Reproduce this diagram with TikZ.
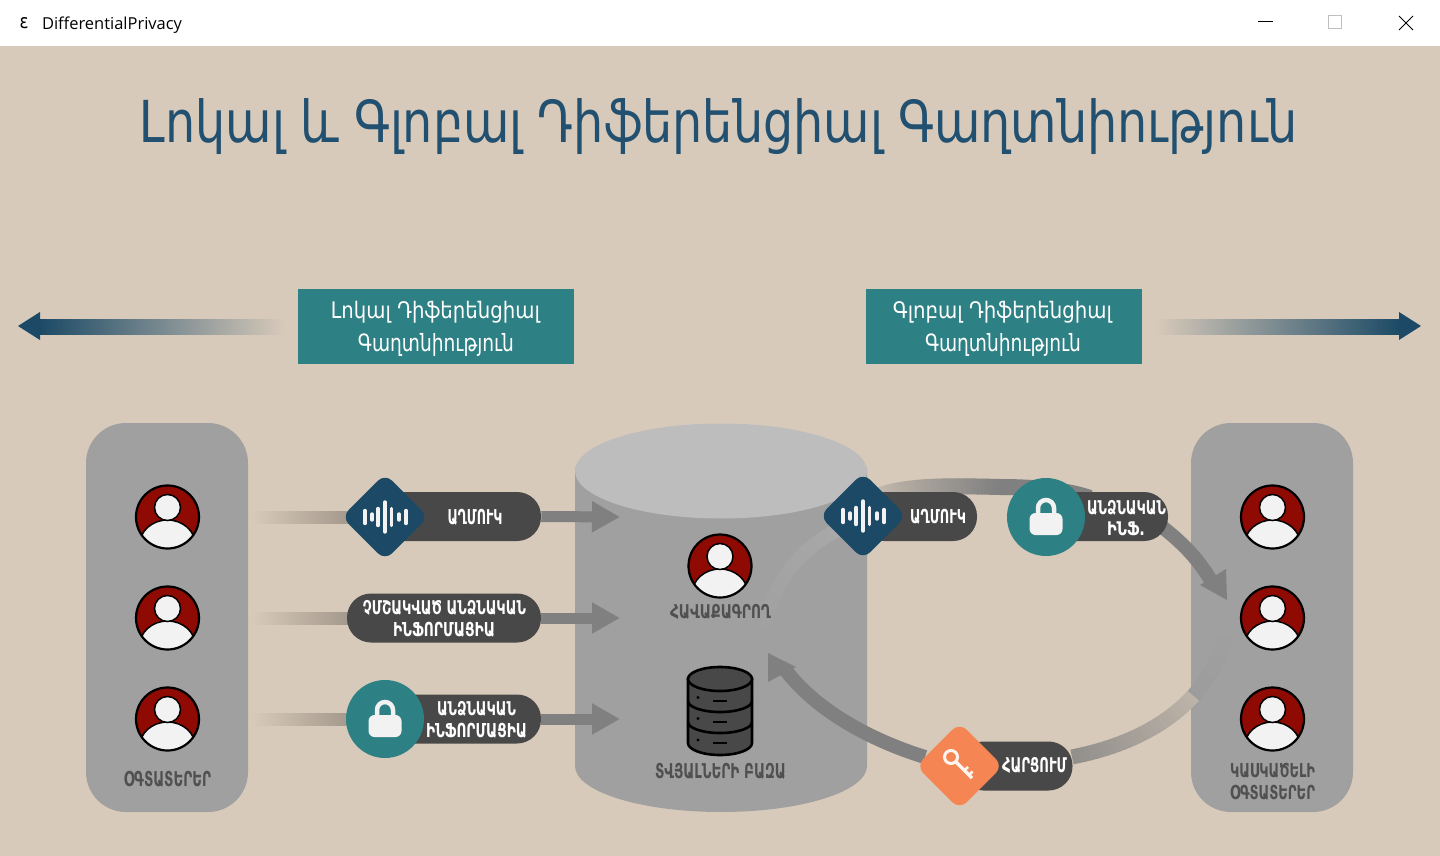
\documentclass[tikz,border=0pt]{standalone}
\usepackage{graphicx}
\usepackage{fontspec}
\usetikzlibrary{arrows.meta,shapes.geometric,calc}
\newfontfamily\armf{DejaVu Sans}
\newfontfamily\uif{Open Sans}
\newdimen\pxu \pxu=.75pt
\newdimen\mydim
\definecolor{bgc}{HTML}{D8CABA}
\definecolor{panelc}{HTML}{A0A0A0}
\definecolor{topc}{HTML}{BDBDBD}
\definecolor{pillc}{HTML}{484848}
\definecolor{navyc}{HTML}{1C4A66}
\definecolor{tealc}{HTML}{2D8083}
\definecolor{orangec}{HTML}{F58553}
\definecolor{arrc}{HTML}{808080}
\definecolor{redc}{HTML}{8F0A02}
\definecolor{iconc}{HTML}{F2F2F2}
\definecolor{captc}{HTML}{505050}
\definecolor{titlec}{HTML}{215070}
\definecolor{shadec}{HTML}{A3988C}
% text fitted to an exact box: regular and bold
\newcommand\lab[3]{\resizebox*{#1\pxu}{#2\pxu}{\armf #3}}
\newcommand\labb[3]{\resizebox*{#1\pxu}{#2\pxu}{\armf\bfseries #3}}
% fading curve between named coordinates, as opaque mixed colours
\newcommand\getxy[3]{\pgfextractx\mydim{\pgfpointanchor{#1}{center}}\edef#2{\the\mydim}\pgfextracty\mydim{\pgfpointanchor{#1}{center}}\edef#3{\the\mydim}}
\def\fadebg{bgc}\def\fadealt{panelc}\def\fadethresh{9999}
\newcommand\fadecurve[8]{%
  \getxy{#1}{\pax}{\pay}\getxy{#2}{\pbx}{\pby}\getxy{#3}{\pcx}{\pcy}\getxy{#4}{\pdx}{\pdy}%
  \foreach \i in {0,...,39}{%
    \pgfmathsetmacro\ta{\i/40}\pgfmathsetmacro\tb{(\i+1.2)/40}%
    \pgfmathsetmacro\xa{(1-\ta)^3*\pax+3*(1-\ta)^2*\ta*\pbx+3*(1-\ta)*\ta^2*\pcx+\ta^3*\pdx}%
    \pgfmathsetmacro\ya{(1-\ta)^3*\pay+3*(1-\ta)^2*\ta*\pby+3*(1-\ta)*\ta^2*\pcy+\ta^3*\pdy}%
    \pgfmathsetmacro\xb{(1-\tb)^3*\pax+3*(1-\tb)^2*\tb*\pbx+3*(1-\tb)*\tb^2*\pcx+\tb^3*\pdx}%
    \pgfmathsetmacro\yb{(1-\tb)^3*\pay+3*(1-\tb)^2*\tb*\pby+3*(1-\tb)*\tb^2*\pcy+\tb^3*\pdy}%
    \pgfmathsetmacro\pc{100*(#7+(#8-#7)*(\i+.5)/40)}%
    \pgfmathparse{\xa>\fadethresh?1:0}%
    \pgfmathtruncatemacro\isalt{\pgfmathresult}%
    \ifnum\isalt=1 \edef\curbg{\fadealt}\pgfmathsetmacro\pc{\pc*.4}\else\edef\curbg{\fadebg}\fi
    \draw[draw=#5!\pc!\curbg,line width=#6\pxu] (\xa pt,\ya pt) -- (\xb pt,\yb pt);%
  }}
\newcommand\usericon[3]{%
  \node[usernode] (#1) at (#2,#3) {};
  \begin{scope}
    \clip (#1.center) circle (31\pxu);
    \fill[iconc,draw=black,line width=1.5\pxu] ($(#1.center)+(0,28)$) ellipse (28 and 25);
  \end{scope}
  \draw[black,line width=2.2\pxu] (#1.center) circle (31.5\pxu);
  \fill[iconc,draw=black,line width=1.5\pxu] ($(#1.center)+(0,-9.5)$) circle (13\pxu);
}
\newcommand\waveicon[1]{%
  \foreach \dx/\hh in {-20/6.5,-13/3,-7/8.5,0/15,6.5/8.5,14/3,21/6.5}{
    \draw[iconc,line width=3.4\pxu,line cap=round] ($(#1.center)+(\dx,-\hh)$) -- ($(#1.center)+(\dx,\hh)$);}
}
\newcommand\lockicon[1]{%
  \draw[iconc,line width=4.5\pxu] ($(#1.center)+(-8,6)$) -- ($(#1.center)+(-8,-9)$) arc[start angle=180,end angle=360,x radius=8,y radius=8] -- ($(#1.center)+(8,6)$);
  \fill[iconc,rounded corners=6\pxu] ($(#1.center)+(-16.5,-4)$) rectangle ($(#1.center)+(16.5,18)$);
}
\tikzset{
  panel/.style={fill=panelc,draw=none,rounded corners=40\pxu,minimum width=162\pxu,minimum height=389\pxu,inner sep=0pt},
  pillnode/.style={fill=pillc,draw=none,rounded corners=24\pxu,minimum height=49\pxu,inner sep=0pt},
  dia/.style={diamond,draw=none,aspect=1,inner sep=0pt,minimum width=87\pxu,minimum height=87\pxu,rounded corners=10\pxu},
  circ/.style={circle,draw=none,inner sep=0pt,minimum size=78\pxu},
  usernode/.style={circle,fill=redc,draw=none,inner sep=0pt,minimum size=63\pxu},
  headbox/.style={fill=tealc,draw=none,inner sep=0pt,minimum width=276\pxu,minimum height=75\pxu},
  txt/.style={inner sep=0pt,outer sep=0pt},
  flow/.style={draw=arrc,line width=11\pxu,-{Triangle[length=21pt,width=22pt]}},
  inbar/.style={draw=none,left color=bgc,right color=shadec},
}
\begin{document}
\begin{tikzpicture}[x=.75pt,y=-.75pt]
\useasboundingbox (0,0) rectangle (1440,856);
\fill[white] (0,0) rectangle (1440,46);
\fill[bgc] (0,46) rectangle (1440,856);
% title bar
\node[txt,anchor=center] (eps) at (24,23) {\resizebox{9\pxu}{11\pxu}{\armf ε}};
\node[txt,anchor=west] (app) at (42,25) {\resizebox{140\pxu}{!}{\uif DifferentialPrivacy}};
\draw[black,line width=1\pxu] (1258,22) -- (1273,22);
\draw[black!25,line width=1\pxu] (1328,16) rectangle (1341,29);
\draw[black,line width=1\pxu] (1399,16) -- (1413,30) (1413,16) -- (1399,30);
% title
\node[txt,text=titlec] (title) at (719,127) {\lab{1158}{56}{Լոկալ և Գլոբալ Դիֆերենցիալ Գաղտնիություն}};
% header boxes
\node[headbox] (hl) at (436,326.5) {};
\node[headbox] (hr) at (1003.5,326.5) {};
\node[txt,text=white] (hl1) at (435.5,312.5) {\lab{209}{22}{Լոկալ Դիֆերենցիալ}};
\node[txt,text=white] (hl2) at (436,344.5) {\lab{156}{23}{Գաղտնիություն}};
\node[txt,text=white] (hr1) at (1002.5,312.5) {\lab{219}{22}{Գլոբալ Դիֆերենցիալ}};
\node[txt,text=white] (hr2) at (1003,344.5) {\lab{156}{23}{Գաղտնիություն}};
% big side arrows
\coordinate (lt) at (18,326);
\coordinate (rt) at (1421,326);
\shade[left color=navyc,right color=bgc,draw=none] (40,319) rectangle (285,334);
\fill[navyc] (lt) -- (40,312) -- (40,340) -- cycle;
\shade[left color=bgc,right color=navyc,draw=none] (1155,319) rectangle (1399,334);
\fill[navyc] (rt) -- (1399,312) -- (1399,340) -- cycle;
% panels and cylinder
\node[panel] (lp) at (167,617.5) {};
\node[panel] (rp) at (1272,617.5) {};
\fill[panelc] (575,468) -- (575,766) arc[start angle=180,end angle=360,x radius=146,y radius=-46] -- (867,468) -- cycle;
\fill[topc] (721,471) ellipse (146 and 47.5);
\coordinate (t1) at (620,517);
\coordinate (t2) at (620,618);
\coordinate (t3) at (620,719);
% fading curves and flows of the cycle
\coordinate (aa) at (1072,757); \coordinate (ab) at (1150,742); \coordinate (ac) at (1215,700); \coordinate (ad) at (1228,625);
\def\fadethresh{893.25}
\fadecurve{aa}{ab}{ac}{ad}{arrc}{15}{.8}{0}
\def\fadethresh{9999}
\coordinate (ba) at (868,500); \coordinate (bb) at (900,484); \coordinate (bc) at (950,486); \coordinate (bd) at (1000,487);
\fadecurve{ba}{bb}{bc}{bd}{arrc}{16}{.15}{1}
\coordinate (be) at (1090,498);
\draw[arrc,line width=16\pxu] (bd) .. controls (1040,487) and (1070,491) .. (be);
\coordinate (ca) at (838,530); \coordinate (cb) at (800,548); \coordinate (cc) at (770,585); \coordinate (cd) at (763,635);
\def\fadebg{panelc}
\fadecurve{ca}{cb}{cc}{cd}{topc}{14}{.28}{0}
\def\fadebg{bgc}
\coordinate (da) at (1150,518); \coordinate (dd) at (1213,584); \coordinate (dt) at (1227,600);
\draw[arrc,line width=14\pxu] (da) .. controls (1178,538) and (1197,556) .. (dd);
\fill[arrc] (dt) -- (1226,569) -- (1200,585) -- cycle;
\coordinate (ea) at (925,757); \coordinate (ed) at (784,668); \coordinate (et) at (768,653);
\draw[arrc,line width=14\pxu] (ea) .. controls (870,740) and (815,710) .. (ed);
\fill[arrc] (et) -- (796,667) -- (768,682) -- cycle;
% left bars and pills
\shade[inbar] (252,511) rectangle (350,523);
\shade[inbar] (252,612) rectangle (350,624);
\shade[inbar] (252,713) rectangle (350,725);
\node[pillnode,minimum width=170\pxu] (p1) at (456,516.5) {};
\node[pillnode,minimum width=194\pxu] (p2) at (444,618) {};
\node[pillnode,minimum width=170\pxu] (p3) at (456,719) {};
\draw[flow] (p1.east) -- (t1);
\draw[flow] (p2.east) -- (t2);
\draw[flow] (p3.east) -- (t3);
\node[dia,fill=navyc] (d1) at (385,517) {};
\node[circ,fill=tealc] (c1) at (385,719) {};
\waveicon{d1}
\lockicon{c1}
\node[txt,text=white] (l1) at (475,517) {\labb{55}{16}{ԱՂՄՈՒԿ}};
\node[txt,text=white] (l2a) at (444.5,607.5) {\labb{163}{15}{ՉՄՇԱԿՎԱԾ ԱՆՁՆԱԿԱՆ}};
\node[txt,text=white] (l2b) at (444,629.5) {\labb{102}{15}{ԻՆՖՈՐՄԱՑԻԱ}};
\node[txt,text=white] (l3a) at (476.5,708.5) {\labb{79}{15}{ԱՆՁՆԱԿԱՆ}};
\node[txt,text=white] (l3b) at (476.5,730.5) {\labb{101}{15}{ԻՆՖՈՐՄԱՑԻԱ}};
% users
\usericon{u1}{167.5}{517}
\usericon{u2}{167.5}{618}
\usericon{u3}{167.5}{719}
\usericon{r1}{1272.5}{517}
\usericon{r2}{1272.5}{618}
\usericon{r3}{1272.5}{719}
\usericon{col}{720}{566}
\node[txt,text=captc] (cap1) at (167.5,779) {\labb{87}{16}{ՕԳՏԱՏԵՐԵՐ}};
\node[txt,text=captc] (cap2) at (720.5,611.5) {\labb{101}{15}{ՀԱՎԱՔԱԳՐՈՂ}};
\node[txt,text=captc] (cap3) at (720.5,771) {\labb{131}{16}{ՏՎՅԱԼՆԵՐԻ ԲԱԶԱ}};
\node[txt,text=captc] (cap4) at (1272.5,770.5) {\labb{85}{15}{ԿԱՍԿԱԾԵԼԻ}};
\node[txt,text=captc] (cap5) at (1272.5,792.5) {\labb{85}{15}{ՕԳՏԱՏԵՐԵՐ}};
% database icon
\begin{scope}[draw=black,fill=pillc,line width=2.6\pxu]
\filldraw (688,679) -- (688,743) arc[start angle=180,end angle=360,x radius=32,y radius=-12] -- (752,679) -- cycle;
\filldraw (720,679) ellipse (32 and 12);
\draw (688,701) arc[start angle=180,end angle=360,x radius=32,y radius=-11];
\draw (688,722) arc[start angle=180,end angle=360,x radius=32,y radius=-11];
\end{scope}
\foreach \yy in {700.5,721.5,743}{
  \fill[black] (698,\yy-3) circle (1.6\pxu);
  \draw[black,line width=2\pxu] (713,\yy) -- (727,\yy);
}
% right side pills
\node[pillnode,minimum width=117\pxu] (p4) at (918.5,516.5) {};
\node[pillnode,minimum width=122\pxu] (p5) at (1107,516.5) {};
\node[pillnode,minimum width=113\pxu] (p6) at (1016,766) {};
\node[dia,fill=navyc] (d2) at (863,516) {};
\node[circ,fill=tealc] (c2) at (1046,517) {};
\node[dia,fill=orangec] (d3) at (959.5,766) {};
\waveicon{d2}
\lockicon{c2}
% key
\draw[white!92!orangec,line width=3\pxu] (951,757) circle (6.5\pxu);
\draw[white!92!orangec,line width=3.5\pxu] (956,762) -- (972,778);
\draw[white!92!orangec,line width=2.5\pxu] (964,771) -- (968,767) (968.5,775.5) -- (972.5,771.5);
\node[txt,text=white] (l4) at (938,516.5) {\labb{56}{15}{ԱՂՄՈՒԿ}};
\node[txt,text=white] (l5a) at (1126.5,507.5) {\labb{79}{15}{ԱՆՁՆԱԿԱՆ}};
\node[txt,text=white] (l5b) at (1126,529) {\labb{38}{14}{ԻՆՖ.}};
\node[txt,text=white] (l6) at (1034.5,765) {\labb{65}{16}{ՀԱՐՑՈՒՄ}};
\end{tikzpicture}
\end{document}
